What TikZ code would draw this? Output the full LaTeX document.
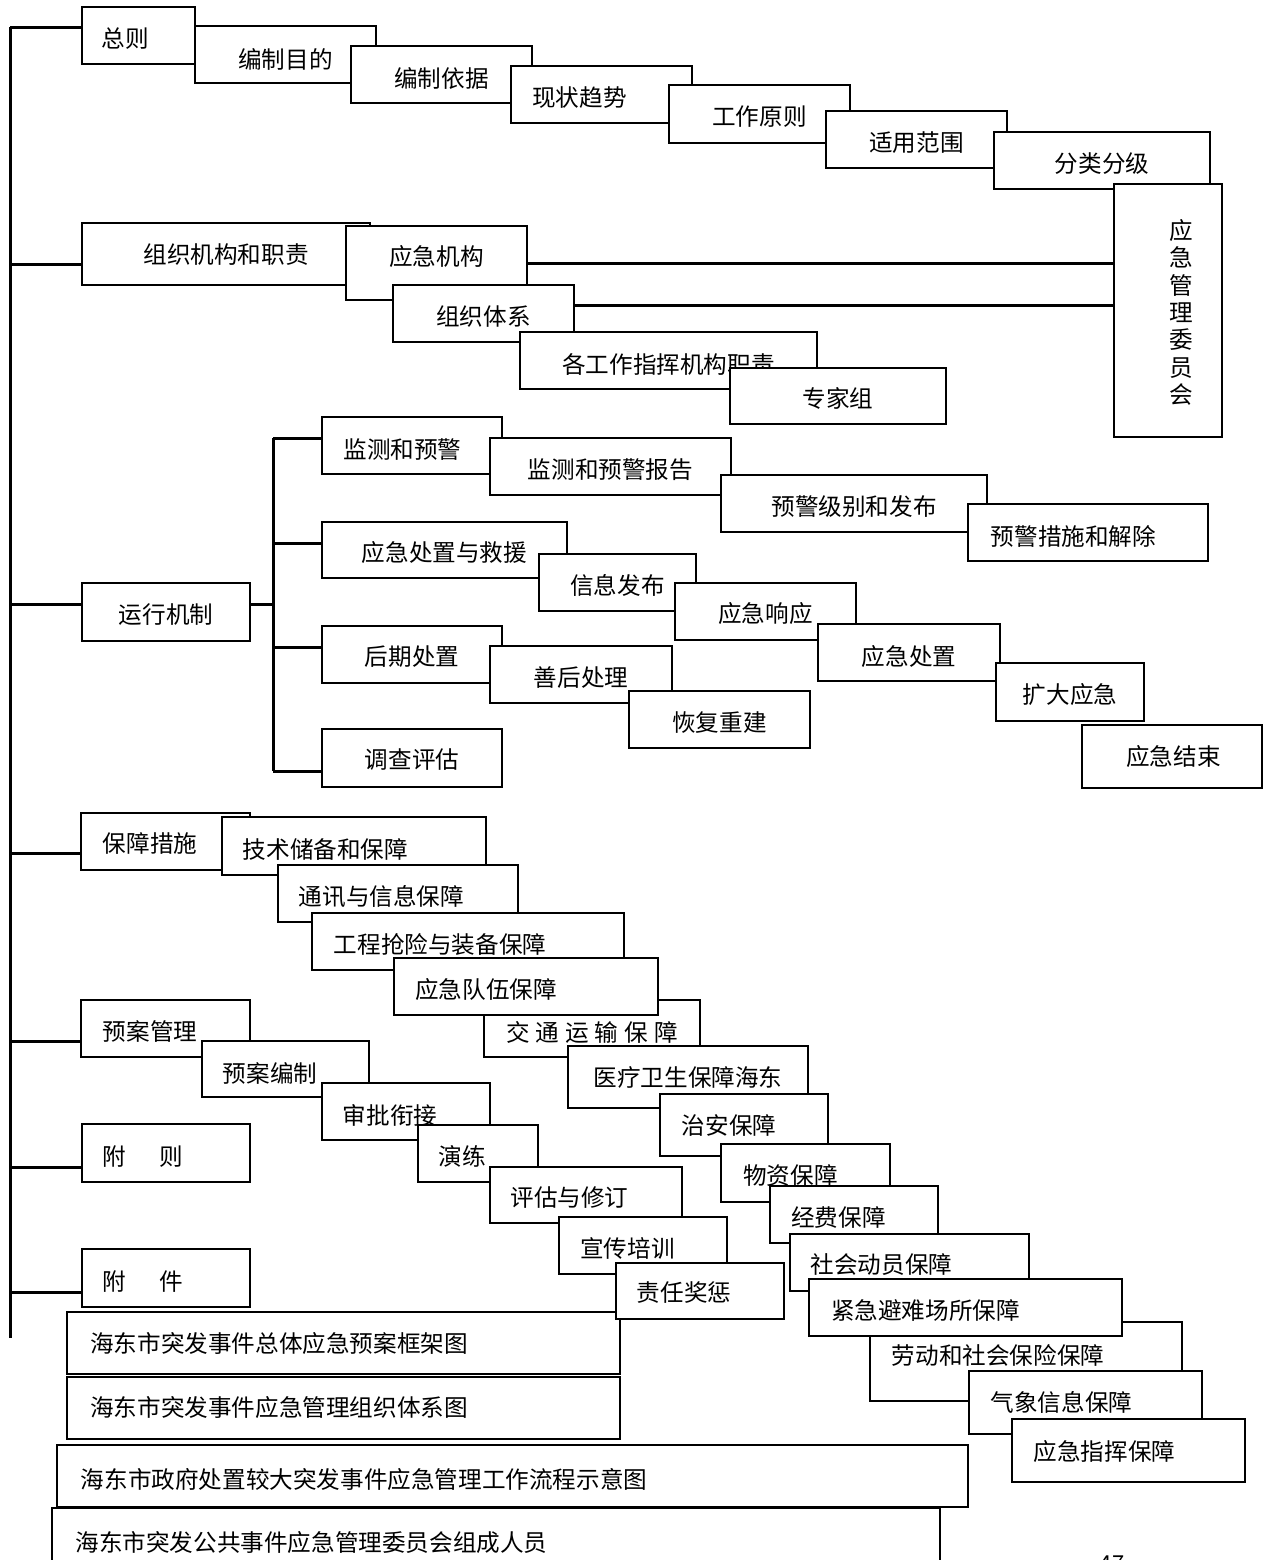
\documentclass[tikz,border=0pt]{standalone}
\usepackage{fontspec}
\setmainfont{Noto Sans CJK SC}
\usepackage{tikz}
\usetikzlibrary{positioning}

\tikzset{
	tdx/.store in=\tbdx,
	tdy/.store in=\tbdy,
	tb/.style={draw, fill=white, line width=0.9pt, inner sep=0pt, tdx=0, tdy=3,
		font=\fontsize{11.8pt}{14pt}\selectfont},
	link/.style={line width=1.5pt},
}

% box from (x1,y1) to (x2,y2), in pixels of the page
\newcommand{\tbox}[7][]{%
	\node[tb, #1, minimum width={(#5-#3)*0.5pt}, minimum height={(#6-#4)*0.5pt}]
		(#2) at ({(#3+#5)/2},{(#4+#6)/2})
		{\hspace*{\tbdx pt}\raisebox{-0.5\dimexpr\tbdy pt\relax}[\height][\depth]{#7}};}

\begin{document}
\begin{tikzpicture}[x=0.5pt, y=-0.5pt]
	\useasboundingbox (0,0) rectangle (1267,1560);
	
	% ---------------------
	% 总则
	\tbox[tdx=-13, tdy=3.5]{zz}{82}{7}{195}{64}{总则}
	\tbox[tdy=4.5]{mudi}{195}{26}{376}{83}{编制目的}
	\tbox[tdy=3.5]{yiju}{351}{46}{532}{103}{编制依据}
	\tbox[tdx=-22]{qushi}{511}{66}{692}{123}{现状趋势}
	\tbox{yuanze}{669}{85}{850}{143}{工作原则}
	\tbox{fanwei}{826}{111}{1007}{168}{适用范围}
	\tbox{fenji}{994}{132}{1210}{189}{分类分级}
	\tbox[tdx=13, tdy=2]{wyh}{1114}{184}{1222}{437}{\parbox{1em}{\centering
		\baselineskip=13.65pt\lineskiplimit=-\maxdimen 应\\急\\管\\理\\委\\员\\会}}
	
	% ---------------------
	% 组织机构和职责
	\tbox[tdy=1]{zzjg}{82}{223}{370}{285}{组织机构和职责}
	\tbox[tdy=-6]{yjjg}{346}{226}{527}{300}{应急机构}
	\tbox[tdy=3.5]{zztx}{393}{285}{574}{342}{组织体系}
	\tbox[tdy=3.5]{gzzh}{520}{332}{817}{389}{各工作指挥机构职责}
	\tbox[tdy=2]{zjz}{730}{368}{946}{424}{专家组}
	
	% ---------------------
	% 运行机制
	\tbox{yxjz}{82}{583}{250}{641}{运行机制}
	\tbox[tdx=-9.5, tdy=3.5]{jcyj}{322}{417}{502}{474}{监测和预警}
	\tbox[tdy=3.5]{yjbg}{490}{438}{731}{495}{监测和预警报告}
	\tbox[tdy=3.5]{yjjb}{721}{475}{987}{532}{预警级别和发布}
	\tbox[tdx=-14.5, tdy=3.5]{yjcs}{968}{504}{1208}{561}{预警措施和解除}
	\tbox{czjy}{322}{522}{567}{578}{应急处置与救援}
	\tbox[tdy=2.5]{xxfb}{539}{554}{696}{611}{信息发布}
	\tbox[tdy=2.5]{yjxy}{675}{583}{856}{640}{应急响应}
	\tbox[tdy=4.5]{yjcz}{818}{624}{1000}{681}{应急处置}
	\tbox{kdyj}{996}{663}{1144}{721}{扩大应急}
	\tbox[tdx=1.5, tdy=0]{yjjs}{1082}{725}{1262}{788}{应急结束}
	\tbox[tdy=2.5]{hqcz}{322}{626}{502}{683}{后期处置}
	\tbox{shcl}{490}{646}{672}{703}{善后处理}
	\tbox[tdy=3.5]{hfcj}{629}{691}{810}{748}{恢复重建}
	\tbox[tdy=2]{dcpg}{322}{729}{502}{787}{调查评估}
	
	% ---------------------
	% 保障措施
	\tbox[tdx=-15.5, tdy=1.5]{bzcs}{81}{813}{250}{870}{保障措施}
	\tbox[tdx=-28.5]{jscb}{222}{817}{486}{875}{技术储备和保障}
	\tbox[tdx=-16.5, tdy=3.5]{txxx}{278}{865}{518}{922}{通讯与信息保障}
	\tbox[tdx=-28]{gcqx}{312}{913}{624}{970}{工程抢险与装备保障}
	\tbox[tdy=3.5]{jtys}{484}{1000}{700}{1057}{交\hspace{3pt}通\hspace{3pt}运\hspace{3pt}输\hspace{3pt}保\hspace{3pt}障}
	\tbox[tdx=-40, tdy=3.5]{yjdw}{394}{958}{658}{1015}{应急队伍保障}
	\tbox[tdy=0]{ylws}{568}{1046}{808}{1108}{医疗卫生保障海东}
	\tbox[tdx=-15, tdy=0]{zabz}{660}{1094}{828}{1156}{治安保障}
	\tbox[tdx=-15, tdy=2]{wzbz}{721}{1144}{890}{1202}{物资保障}
	\tbox[tdx=-15.5, tdy=2.5]{jfbz}{770}{1186}{938}{1243}{经费保障}
	\tbox[tdx=-28, tdy=2.5]{shdy}{790}{1234}{1029}{1291}{社会动员保障}
	\tbox[tdx=-28, tdy=-6.5]{ldbx}{870}{1322}{1182}{1401}{劳动和社会保险保障}
	\tbox[tdx=-40, tdy=2.5]{jjbn}{809}{1279}{1122}{1336}{紧急避难场所保障}
	\tbox[tdx=-24, tdy=0]{qxxx}{969}{1371}{1202}{1434}{气象信息保障}
	\tbox[tdx=-24, tdy=1.5]{yjzh}{1012}{1419}{1245}{1482}{应急指挥保障}
	
	% ---------------------
	% 预案管理, 附则, 附件
	\tbox[tdx=-15.5]{yagl}{81}{1000}{250}{1057}{预案管理}
	\tbox[tdx=-15.5, tdy=4]{yabz}{202}{1041}{369}{1097}{预案编制}
	\tbox[tdx=-16, tdy=3.5]{spxj}{322}{1083}{490}{1140}{审批衔接}
	\tbox[tdx=-16]{yl}{418}{1125}{538}{1182}{演练}
	\tbox[tdx=-16.5]{pgxd}{490}{1167}{682}{1223}{评估与修订}
	\tbox[tdx=-15.5, tdy=2.5]{xcpx}{559}{1217}{727}{1274}{宣传培训}
	\tbox[tdx=-23, tdy=4]{fz}{82}{1124}{250}{1182}{附\hspace{17pt}则}
	\tbox[tdx=-23, tdy=4]{fj}{82}{1249}{250}{1307}{附\hspace{17pt}件}
	\tbox[tdx=-64.5, tdy=1]{kjt}{67}{1312}{620}{1374}{海东市突发事件总体应急预案框架图}
	\tbox[tdx=-16, tdy=2]{zrjc}{616}{1263}{784}{1319}{责任奖惩}
	\tbox[tdx=-64.5, tdy=0]{tixi}{67}{1377}{620}{1439}{海东市突发事件应急管理组织体系图}
	\tbox[tdx=-148.5]{lct}{57}{1445}{968}{1507}{海东市政府处置较大突发事件应急管理工作流程示意图}
	\tbox[tdx=-184.5, tdy=3.5]{cyry}{52}{1508}{940}{1570}{海东市突发公共事件应急管理委员会组成人员}
	
	% page number, cut by the page edge
	\node[inner sep=0pt, anchor=base, font=\fontsize{11pt}{13pt}\selectfont] (page) at (1112,1571) {47};
	
	% ------------------------------------------------
	% Trunk
	\coordinate (TrunkTop) at (10,27);
	\coordinate (TrunkEnd) at (10,1338);
	\draw[link] (TrunkTop) -- (TrunkEnd);
	\foreach \n/\y in {zz/27, zzjg/264, yxjz/604, bzcs/853, yagl/1041, fz/1167, fj/1292}{
		\coordinate (Trunk-\n) at (10,\y);
		\draw[link] (Trunk-\n) -- (Trunk-\n -| \n.west);
	}
	
	% ------------------------------------------------
	% 运行机制 fork
	\coordinate (Fork) at (273,604);
	\draw[link] (yxjz.east |- Fork) -- (Fork);
	\foreach \n/\y in {jcyj/438, czjy/543, hqcz/647, dcpg/771}{
		\coordinate (Fork-\n) at (273,\y);
		\draw[link] (Fork-\n) -- (Fork-\n -| \n.west);
	}
	\draw[link] (Fork-jcyj) -- (Fork-dcpg);
	
	% ------------------------------------------------
	% to 应急管理委员会
	\draw[link] (yjjg.east) -- (yjjg.east -| wyh.west);
	\draw[link] ([yshift=4.25pt]zztx.east) -- ([yshift=4.25pt]zztx.east -| wyh.west);
	
\end{tikzpicture}
\end{document}
